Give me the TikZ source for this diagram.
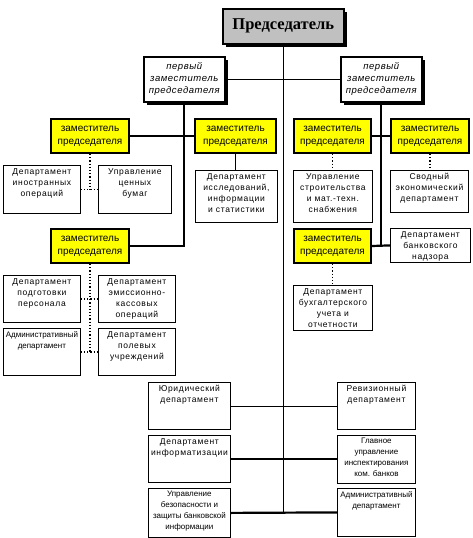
\documentclass[tikz,border=0pt]{standalone}
\usepackage{fontspec}
\setmainfont{Liberation Sans}
\newfontfamily\chairfont{Liberation Serif}
\newfontfamily\firstfont[LetterSpace=6]{Liberation Sans}
\newfontfamily\deptfont[LetterSpace=8]{Liberation Sans}
\newfontfamily\tightfont{Liberation Sans}
\usetikzlibrary{shadows}
\definecolor{DeputyYellow}{RGB}{255,255,0}
\definecolor{ChairGray}{RGB}{192,192,192}
\newcommand{\depttext}[3]{\parbox[t][#2][t]{#1}{\centering\vspace*{3pt}#3}}

\begin{document}
\begin{tikzpicture}[x=1pt,y=-1pt,
  chief/.style={draw,line width=1.5pt,fill=ChairGray,inner sep=0pt,minimum width=121pt,minimum height=35pt,anchor=north west,
    font=\chairfont\bfseries\fontsize{16.5}{19}\selectfont,drop shadow={shadow xshift=3pt,shadow yshift=-3pt,opacity=1,fill=black}},
  first/.style={draw,line width=1.5pt,fill=white,inner sep=0pt,minimum width=81pt,minimum height=45pt,anchor=north west,align=center,
    font=\firstfont\itshape\fontsize{9.5}{12}\selectfont,drop shadow={shadow xshift=3pt,shadow yshift=-3pt,opacity=1,fill=black}},
  deputy/.style={draw,line width=2pt,fill=DeputyYellow,inner sep=0pt,minimum width=#1,minimum height=34pt,anchor=north west,align=center,
    font=\fontsize{10}{13}\selectfont},
  dept/.style={draw,line width=.8pt,fill=white,inner sep=0pt,anchor=north west,font=\deptfont\fontsize{8.5}{11}\selectfont},
  tight/.style={font=\tightfont\fontsize{8}{11}\selectfont},
  link/.style={line width=.8pt},
  mid link/.style={line width=1.6pt},
  bold link/.style={line width=2.2pt},
  sub link/.style={line width=1.2pt,dotted}]
\path[use as bounding box,fill=white] (0,0) rectangle (472,538);

% руководство
\node[chief] (chair) at (222,8) {Председатель};
\node[first] (firstL) at (143,56) {первый\\заместитель\\председателя};
\node[first] (firstR) at (340,56) {первый\\заместитель\\председателя};

% заместители
\node[deputy=78pt] (zamL) at (50,118) {заместитель\\председателя};
\node[deputy=81pt] (zamC) at (194,118) {заместитель\\председателя};
\node[deputy=77pt] (zamR) at (293,118) {заместитель\\председателя};
\node[deputy=78pt] (zamRR) at (390,118) {заместитель\\председателя};
\node[deputy=78pt] (zamLB) at (50,228) {заместитель\\председателя};
\node[deputy=77pt] (zamRB) at (293,228) {заместитель\\председателя};

% департаменты при заместителях
\node[dept] (foreign) at (3,165) {\depttext{77pt}{48pt}{Департамент\\иностранных\\операций}};
\node[dept] (papers) at (98,165) {\depttext{73pt}{48pt}{Управление\\ценных\\бумаг}};
\node[dept] (research) at (195,170) {\depttext{82pt}{52pt}{Департамент\\исследований,\\информации\\и статистики}};
\node[dept] (building) at (293,170) {\depttext{79pt}{52pt}{Управление\\строительства\\и мат.-техн.\\снабжения}};
\node[dept] (economy) at (390,170) {\depttext{78pt}{42pt}{Сводный\\экономический\\департамент}};
\node[dept] (supervis) at (390,228) {\depttext{80pt}{34pt}{Департамент\\банковского\\надзора}};
\node[dept] (account) at (293,285) {\depttext{79pt}{45pt}{Департамент\\бухгалтерского\\учета и\\отчетности}};
\node[dept] (staff) at (3,275) {\depttext{77pt}{47pt}{Департамент\\подготовки\\персонала}};
\node[dept] (cash) at (98,275) {\depttext{77pt}{47pt}{Департамент\\эмиссионно-\\кассовых\\операций}};
\node[dept,tight] (adminL) at (3,328) {\depttext{77pt}{47pt}{Административный\\департамент}};
\node[dept] (field) at (98,328) {\depttext{77pt}{47pt}{Департамент\\полевых\\учреждений}};

% департаменты при председателе
\node[dept] (legal) at (148,382) {\depttext{82pt}{47pt}{Юридический\\департамент}};
\node[dept] (inform) at (148,435) {\depttext{82pt}{47pt}{Департамент\\информатизации}};
\node[dept,tight] (safety) at (148,488) {\depttext{82pt}{49pt}{Управление\\безопасности и\\защиты банковской\\информации}};
\node[dept] (audit) at (337,382) {\depttext{78pt}{47pt}{Ревизионный\\департамент}};
\node[dept,tight] (inspect) at (337,435) {\depttext{78pt}{48pt}{Главное\\управление\\инспектирования\\ком. банков}};
\node[dept,tight] (adminR) at (337,488) {\depttext{78pt}{48pt}{Административный\\департамент}};

% связи
\draw[link] (chair.south) -- (chair.south |- safety.east);
\draw[link] (firstL.east) -- (firstR.west);
\draw[mid link] (firstL.south) |- (zamLB.east);
\draw[mid link] (firstR.south) |- (zamRB.east);
\draw[bold link] (zamL.east) -- (zamC.west);
\draw[bold link] (zamR.east) -- (zamRR.west);
\draw[bold link] (zamRB.east) -- (supervis.west);
\draw[mid link] (zamC.south) -- (zamC.south |- research.north);
\draw[sub link] (zamL.south) -- (zamL.south |- foreign.east);
\draw[sub link] (foreign.east) -- (papers.west);
\draw[sub link] (zamLB.south) -- (zamLB.south |- field.west);
\draw[sub link] (staff.east) -- (cash.west);
\draw[sub link] (adminL.east) -- (field.west);
\draw[sub link] (zamR.south) -- (zamR.south |- building.north);
\draw[sub link] (zamRR.south) -- (zamRR.south |- economy.north);
\draw[sub link] (zamRB.south) -- (zamRB.south |- account.north);
\draw[link] (legal.east) -- (audit.west);
\draw[bold link] (inform.east) -- (inform.east -| inspect.west);
\draw[bold link] (safety.east) -- (adminR.west);
\end{tikzpicture}
\end{document}
